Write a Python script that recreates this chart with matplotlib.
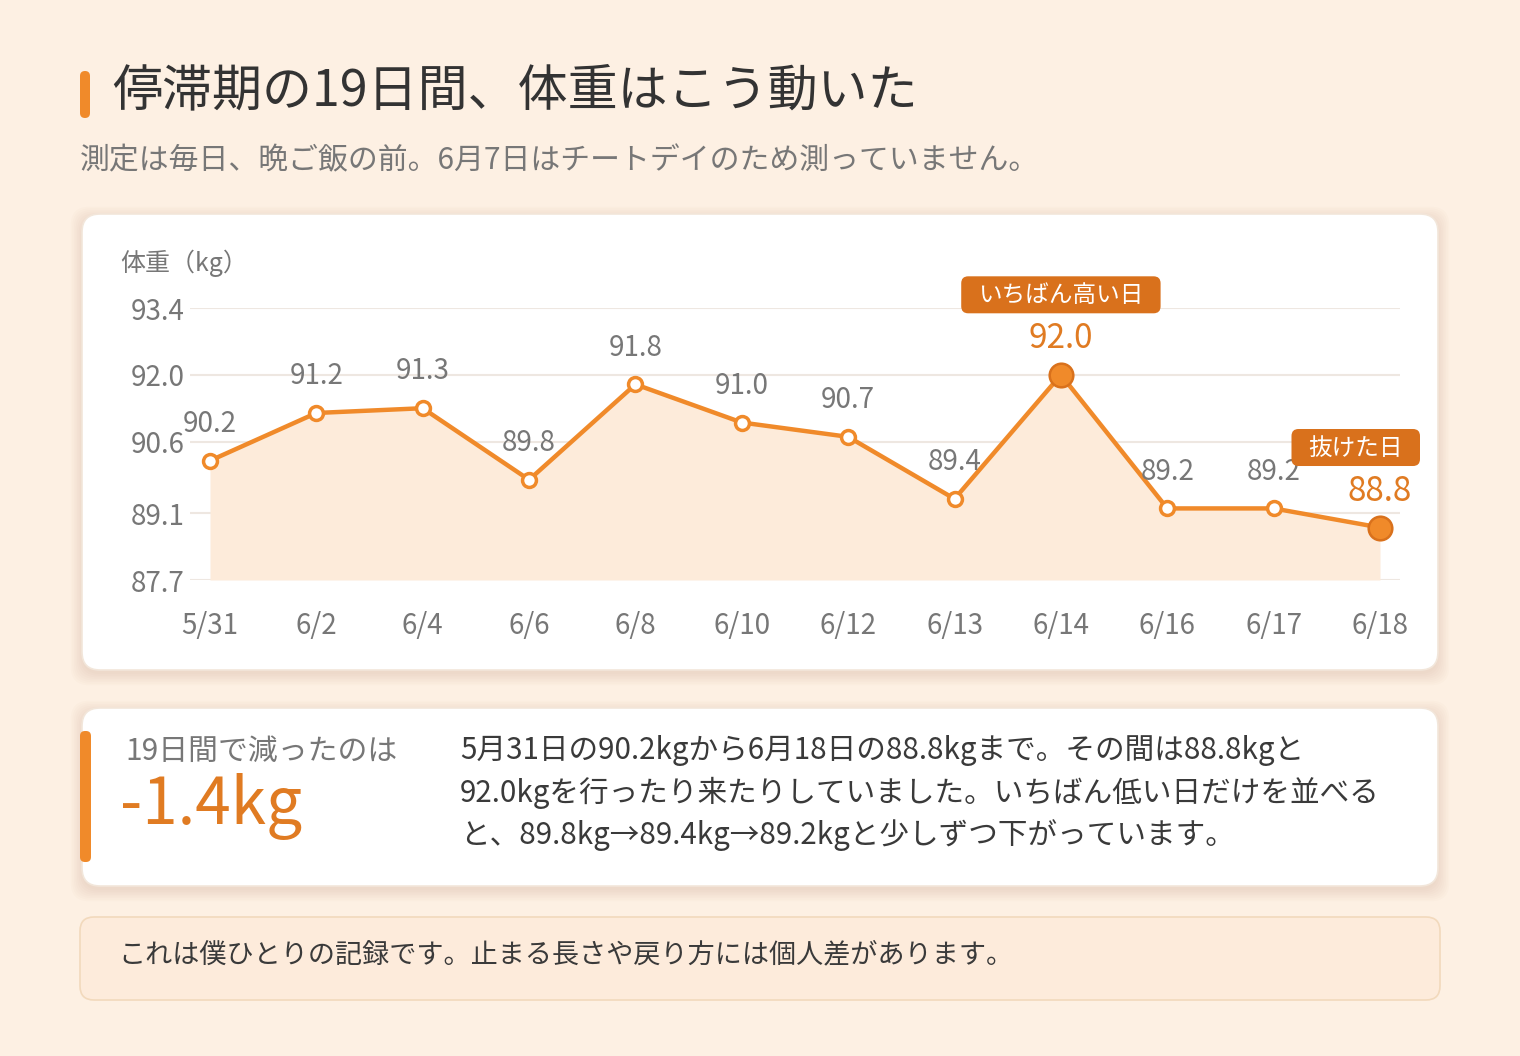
import numpy as np
import matplotlib
matplotlib.use('Agg')
import matplotlib.pyplot as plt
from matplotlib.patches import FancyBboxPatch

plt.rcParams['font.family'] = ['Noto Sans CJK JP', 'DejaVu Sans']

# data
dates = ['5/31', '6/2', '6/4', '6/6', '6/8', '6/10', '6/12', '6/13', '6/14', '6/16', '6/17', '6/18']
weights = [90.2, 91.2, 91.3, 89.8, 91.8, 91.0, 90.7, 89.4, 92.0, 89.2, 89.2, 88.8]
yticks = [87.7, 89.1, 90.6, 92.0, 93.4]
ymin, ymax = 87.7, 93.4
highlights = {8: 'いちばん高い日', 11: '抜けた日'}

title = '停滞期の19日間、体重はこう動いた'
subtitle = '測定は毎日、晩ご飯の前。6月7日はチートデイのため測っていません。'
ylabel = '体重（kg）'
stat_label = '19日間で減ったのは'
stat_value = '-1.4kg'
para = ['5月31日の90.2kgから6月18日の88.8kgまで。その間は88.8kgと',
        '92.0kgを行ったり来たりしていました。いちばん低い日だけを並べる',
        'と、89.8kg→89.4kg→89.2kgと少しずつ下がっています。']
note = 'これは僕ひとりの記録です。止まる長さや戻り方には個人差があります。'

# colours
BG = '#FDF0E3'
ORANGE = '#F08A2A'
DARK = '#D9711C'
LABEL_OR = '#E07B22'
FILL = '#FDEBDA'
GRAY = '#777777'
TEXT = '#333333'
GRID = '#EEE7E1'

W, H = 1520, 1056
fig = plt.figure(figsize=(W / 100, H / 100), dpi=100)
fig.patch.set_facecolor(BG)

bg = fig.add_axes([0, 0, 1, 1], zorder=0)
bg.set_xlim(0, W); bg.set_ylim(H, 0); bg.axis('off')
fg = fig.add_axes([0, 0, 1, 1], zorder=3)
fg.set_xlim(0, W); fg.set_ylim(H, 0); fg.axis('off')
fg.patch.set_alpha(0)


def card(x, y, w, h, fc='white', ec='#F2E6DA', r=18, shadow=True):
    if shadow:
        for k in range(8):
            bg.add_patch(FancyBboxPatch((x, y + 4), w, h, boxstyle=f'round,pad={k*1.6},rounding_size={r}',
                                        fc='#B08860', ec='none', alpha=0.025))
    bg.add_patch(FancyBboxPatch((x, y), w, h, boxstyle=f'round,pad=0,rounding_size={r}',
                                fc=fc, ec=ec, lw=1.2))


# title
bg.add_patch(FancyBboxPatch((80, 71), 10, 47, boxstyle='round,pad=0,rounding_size=5', fc=ORANGE, ec='none'))
bg.text(112, 91, title, fontsize=36, color=TEXT, va='center', ha='left')
bg.text(80, 161, subtitle, fontsize=21.5, color=GRAY, va='center', ha='left')

# chart card
card(82, 214, 1356, 456)
bg.text(120, 263, ylabel, fontsize=18, color=GRAY, va='center', ha='left')

ax = fig.add_axes([190 / W, (H - 580) / H, 1210 / W, 272 / H], zorder=2)
ax.patch.set_alpha(0)
x = np.arange(len(dates))
ax.set_xlim(-0.188, len(dates) - 1 + 0.188)
ax.set_ylim(ymin, ymax)
ax.set_yticks(yticks)
ax.set_yticklabels([f'{t:.1f}' for t in yticks])
ax.set_xticks(x)
ax.set_xticklabels(dates)
ax.tick_params(axis='both', length=0, labelsize=20, labelcolor=GRAY)
ax.tick_params(axis='y', pad=4)
ax.tick_params(axis='x', pad=22)
for s in ax.spines.values():
    s.set_visible(False)
ax.yaxis.grid(True, color=GRID, lw=1.5)
ax.set_axisbelow(True)

ax.fill_between(x, weights, ymin, color=FILL, lw=0, zorder=1)
ax.plot(x, weights, color=ORANGE, lw=3.2, solid_joinstyle='round', zorder=2, clip_on=False)
norm = [i for i in x if i not in highlights]
hi = list(highlights.keys())
ax.plot(norm, [weights[i] for i in norm], 'o', ms=10, mfc='white', mec=ORANGE, mew=2.5,
        zorder=3, clip_on=False)
ax.plot(hi, [weights[i] for i in hi], 'o', ms=17, mfc=ORANGE, mec=DARK, mew=1.8,
        zorder=4, clip_on=False)

for i, v in enumerate(weights):
    if i in highlights:
        ax.annotate(f'{v:.1f}', (i, v), xytext=(0, 26), textcoords='offset points',
                    ha='center', va='center', fontsize=24, color=LABEL_OR, zorder=5)
    else:
        ax.annotate(f'{v:.1f}', (i, v), xytext=(0, 26.5), textcoords='offset points',
                    ha='center', va='center', fontsize=20, color=GRAY, zorder=5)

# badges
renderer = fig.canvas.get_renderer()
for i, lab in highlights.items():
    px, py = ax.transData.transform((i, weights[i]))
    cx = px
    cy = H - py - 80
    t = fg.text(cx, cy + 1, lab, fontsize=17, color='white', ha='center', va='center', zorder=6)
    tw = t.get_window_extent(renderer).width
    bw, bh = tw + 34, 37
    if cx + bw / 2 > 1420:
        cx = 1420 - bw / 2
        t.set_x(cx)
    fg.add_patch(FancyBboxPatch((cx - bw / 2, cy - bh / 2), bw, bh,
                                boxstyle='round,pad=0,rounding_size=7', fc=DARK, ec='none', zorder=5))

# stat card
card(82, 708, 1356, 178)
bg.add_patch(FancyBboxPatch((80, 731), 11, 131, boxstyle='round,pad=0,rounding_size=5', fc=ORANGE, ec='none'))
bg.text(125, 751, stat_label, fontsize=21.5, color=GRAY, va='center', ha='left')
bg.text(120, 806, stat_value, fontsize=46, color=LABEL_OR, va='center', ha='left')
for k, line in enumerate(para):
    bg.text(460, 751 + k * 42, line, fontsize=21.3, color='#3A3A3A', va='center', ha='left')

# note
card(80, 917, 1360, 83, fc='#FDEBDB', ec='#F2D9BC', r=14, shadow=False)
bg.text(118, 955, note, fontsize=19.5, color='#3A3A3A', va='center', ha='left')

fig.savefig('out.png', dpi=100, facecolor=BG)
